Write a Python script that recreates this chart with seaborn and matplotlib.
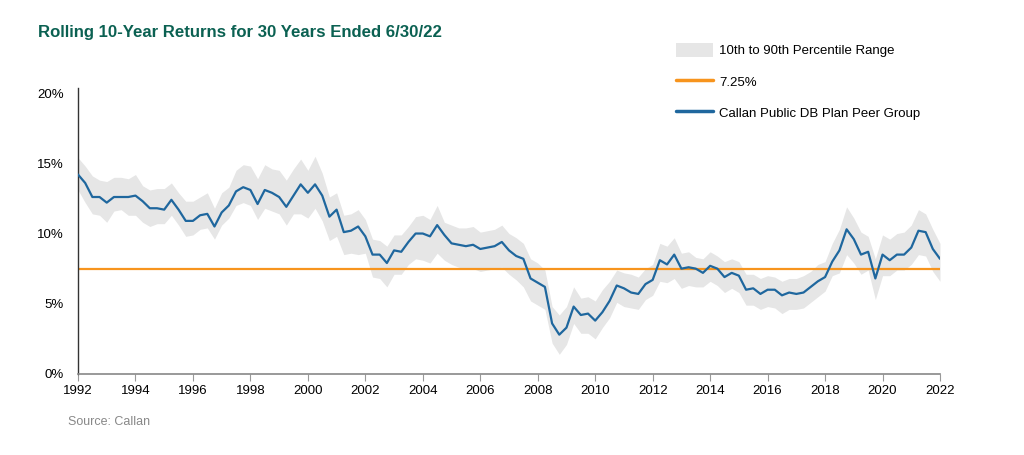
import numpy as np
import pandas as pd
import matplotlib.pyplot as plt
import seaborn as sns
from matplotlib.patches import Patch
from matplotlib.lines import Line2D

# Quarterly rolling 10-year returns (%), Q1 1992 .. Q2 2022
median = [14.2, 13.6, 12.6, 12.6, 12.2, 12.6, 12.6, 12.6, 12.7, 12.3, 11.8, 11.8,
          11.7, 12.4, 11.7, 10.9, 10.9, 11.3, 11.4, 10.5, 11.5, 12.0, 13.0, 13.3,
          13.1, 12.1, 13.1, 12.9, 12.6, 11.9, 12.7, 13.5, 12.9, 13.5, 12.7, 11.2,
          11.7, 10.1, 10.2, 10.5, 9.8, 8.5, 8.5, 7.9, 8.8, 8.7, 9.4, 10.0,
          10.0, 9.8, 10.6, 9.9, 9.3, 9.2, 9.1, 9.2, 8.9, 9.0, 9.1, 9.4,
          8.8, 8.4, 8.2, 6.8, 6.5, 6.2, 3.6, 2.8, 3.3, 4.8, 4.2, 4.3,
          3.8, 4.4, 5.2, 6.3, 6.1, 5.8, 5.7, 6.4, 6.7, 8.1, 7.8, 8.5,
          7.5, 7.6, 7.5, 7.2, 7.7, 7.5, 6.9, 7.2, 7.0, 6.0, 6.1, 5.7,
          6.0, 6.0, 5.6, 5.8, 5.7, 5.8, 6.2, 6.6, 6.9, 8.0, 8.8, 10.3,
          9.6, 8.5, 8.7, 6.8, 8.5, 8.1, 8.5, 8.5, 9.0, 10.2, 10.1, 8.9, 8.2]

p90 = [15.4, 14.8, 14.1, 13.8, 13.7, 14.0, 14.0, 13.9, 14.2, 13.4, 13.1, 13.2,
       13.2, 13.6, 12.9, 12.3, 12.3, 12.6, 12.9, 11.8, 12.9, 13.3, 14.5, 14.9,
       14.8, 13.9, 14.9, 14.6, 14.5, 13.8, 14.6, 15.3, 14.5, 15.5, 14.3, 12.6,
       12.9, 11.3, 11.4, 11.7, 11.0, 9.6, 9.5, 9.1, 9.9, 9.9, 10.5, 11.2,
       11.3, 11.0, 12.0, 10.8, 10.6, 10.4, 10.4, 10.5, 10.1, 10.2, 10.3, 10.6,
       10.0, 9.7, 9.3, 8.2, 7.9, 7.4, 4.8, 4.2, 4.8, 6.2, 5.4, 5.5,
       5.2, 6.0, 6.6, 7.4, 7.2, 7.1, 6.9, 7.5, 7.8, 9.3, 9.1, 9.7,
       8.6, 8.7, 8.3, 8.2, 8.7, 8.4, 8.0, 8.2, 8.0, 7.1, 7.1, 6.8,
       7.0, 6.9, 6.6, 6.8, 6.8, 7.0, 7.3, 7.8, 8.0, 9.3, 10.3, 11.9,
       11.1, 10.1, 9.8, 8.2, 9.9, 9.6, 10.0, 10.1, 10.6, 11.7, 11.4, 10.3, 9.3]

p10 = [13.1, 12.2, 11.4, 11.3, 10.8, 11.6, 11.7, 11.3, 11.3, 10.8, 10.5, 10.7,
       10.7, 11.3, 10.6, 9.8, 9.9, 10.3, 10.4, 9.6, 10.6, 11.1, 12.0, 12.2,
       12.0, 11.0, 11.8, 11.6, 11.4, 10.6, 11.4, 11.4, 11.1, 11.8, 10.9, 9.5,
       9.8, 8.5, 8.6, 8.5, 8.6, 6.9, 6.8, 6.2, 7.1, 7.1, 7.8, 8.2,
       8.1, 7.9, 8.6, 8.1, 7.8, 7.6, 7.5, 7.5, 7.3, 7.4, 7.5, 7.6,
       7.1, 6.7, 6.2, 5.2, 4.9, 4.6, 2.2, 1.4, 2.1, 3.6, 2.9, 2.9,
       2.5, 3.3, 4.0, 5.1, 4.8, 4.7, 4.6, 5.3, 5.6, 6.6, 6.5, 6.8,
       6.1, 6.3, 6.2, 6.2, 6.6, 6.3, 5.8, 6.1, 5.8, 4.9, 4.9, 4.6,
       4.8, 4.7, 4.3, 4.6, 4.6, 4.7, 5.1, 5.5, 5.9, 7.0, 7.2, 8.5,
       7.9, 7.1, 7.4, 5.3, 7.0, 7.0, 7.4, 7.4, 7.8, 8.5, 8.4, 7.3, 6.6]

target = 7.5
year_ticks = list(range(1992, 2023, 2))
y_ticks = [0, 5, 10, 15, 20]

df = pd.DataFrame({
    'year': 1992 + np.arange(len(median)) / 4,
    'median': median, 'p10': p10, 'p90': p90,
})

blue = '#1F679E'
orange = '#F7941D'
band = '#E6E6E6'
teal = '#0B6152'

sns.set_style('white')
plt.rcParams['font.family'] = ['Liberation Sans', 'DejaVu Sans']
plt.rcParams['text.color'] = 'black'

fig = plt.figure(figsize=(10.24, 4.55), dpi=100)
ax = fig.add_axes([78 / 1024, 1 - 374 / 455, 862 / 1024, 286 / 455])

ax.fill_between(df['year'], df['p10'], df['p90'], color=band, lw=0, zorder=1)
ax.axhline(target, color=orange, lw=1.6, zorder=2)
sns.lineplot(data=df, x='year', y='median', color=blue, lw=1.6, ax=ax, zorder=3)

ax.set_xlim(1992, 2022)
ax.set_ylim(0, 20.36)
ax.set_xticks(year_ticks)
ax.set_xticklabels([str(y) for y in year_ticks], fontsize=9.5, color='black')
ax.set_yticks(y_ticks)
ax.set_yticklabels([f'{v}%' for v in y_ticks], fontsize=9.5, color='black')
ax.set_xlabel('')
ax.set_ylabel('')
ax.tick_params(axis='x', length=5, color='#999999', direction='out', pad=3, bottom=True)
ax.tick_params(axis='y', length=0, pad=10)
for s in ['top', 'right']:
    ax.spines[s].set_visible(False)
ax.spines['left'].set_color('#333333')
ax.spines['bottom'].set_color('#888888')
ax.spines['left'].set_linewidth(1)
ax.spines['bottom'].set_linewidth(1.2)

handles = [Patch(facecolor=band, edgecolor='none'),
           Line2D([], [], color=orange, lw=2.5),
           Line2D([], [], color=blue, lw=2.5)]
labels = ['10th to 90th Percentile Range', '7.25%', 'Callan Public DB Plan Peer Group']
fig.legend(handles, labels, loc='upper left', bbox_to_anchor=(664 / 1024, 1 - 31 / 455),
           frameon=False, fontsize=9.5, handlelength=2.8, handleheight=1.3,
           labelspacing=1.25, handletextpad=0.5, labelcolor='black')

fig.text(38 / 1024, 1 - 33 / 455, 'Rolling 10-Year Returns for 30 Years Ended 6/30/22',
         color=teal, fontsize=12.1, fontweight='bold', va='center', ha='left')
fig.text(68 / 1024, 1 - 422 / 455, 'Source: Callan', color='#888888', fontsize=9,
         va='center', ha='left')

fig.savefig('out.png', dpi=100)
